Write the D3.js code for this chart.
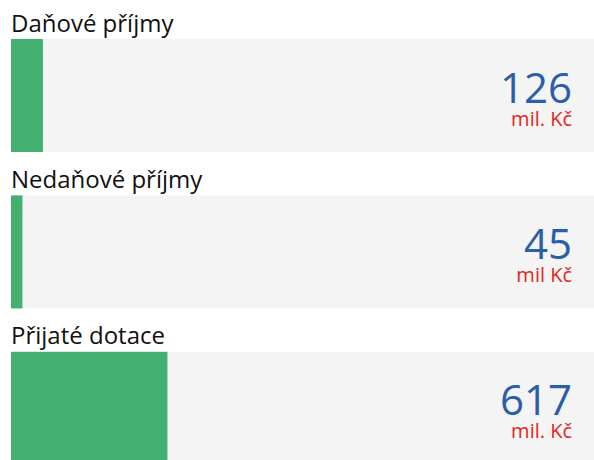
<!DOCTYPE html>
<html>
<head>
<meta charset="utf-8">
<script src="https://cdn.jsdelivr.net/npm/d3@7"></script>
<style>
  html, body { margin: 0; padding: 0; background: #fff; }
  svg { display: block; }
</style>
</head>
<body>
<div id="chart"></div>
<script>
const categories = ["Daňové příjmy", "Nedaňové příjmy", "Přijaté dotace"];
const values = [126, 45, 617];
const units = ["mil. Kč", "mil Kč", "mil. Kč"];
const domainMax = 2300;

const W = 594, H = 460;
const left = 11, panelTop = 39, panelH = 113, panelStep = 156.4;

const svg = d3.select("#chart").append("svg").attr("width", W).attr("height", H);

const x = d3.scaleLinear().domain([0, domainMax]).range([0, W - left]);
const y = d3.scaleBand().domain(categories).range([panelTop, panelTop + panelStep * categories.length]).paddingInner(0).paddingOuter(0);

const font = "'Open Sans', 'Noto Sans', sans-serif";

const g = svg.selectAll("g.panel").data(categories).join("g")
  .attr("class", "panel")
  .attr("transform", d => `translate(${left},${y(d)})`);

g.append("rect").attr("x", 0).attr("y", 0)
  .attr("width", W - left).attr("height", panelH).attr("fill", "#f4f4f4");

g.append("rect").attr("x", 0).attr("y", 0)
  .attr("width", (d, i) => x(values[i])).attr("height", panelH).attr("fill", "#44b070");

g.append("text").attr("x", 0).attr("y", -7.5)
  .attr("font-family", font).attr("font-size", 24).attr("fill", "#111")
  .text(d => d);

const vt = g.append("text").attr("text-anchor", "end").attr("font-family", font);

vt.append("tspan").attr("x", 572 - left).attr("y", 63.5)
  .attr("font-size", 42).attr("fill", "#2a5ea8")
  .text((d, i) => values[i]);

vt.append("tspan").attr("x", 572 - left).attr("y", 86.5)
  .attr("font-size", 20).attr("fill", "#e3261d")
  .text((d, i) => units[i]);
</script>
</body>
</html>
